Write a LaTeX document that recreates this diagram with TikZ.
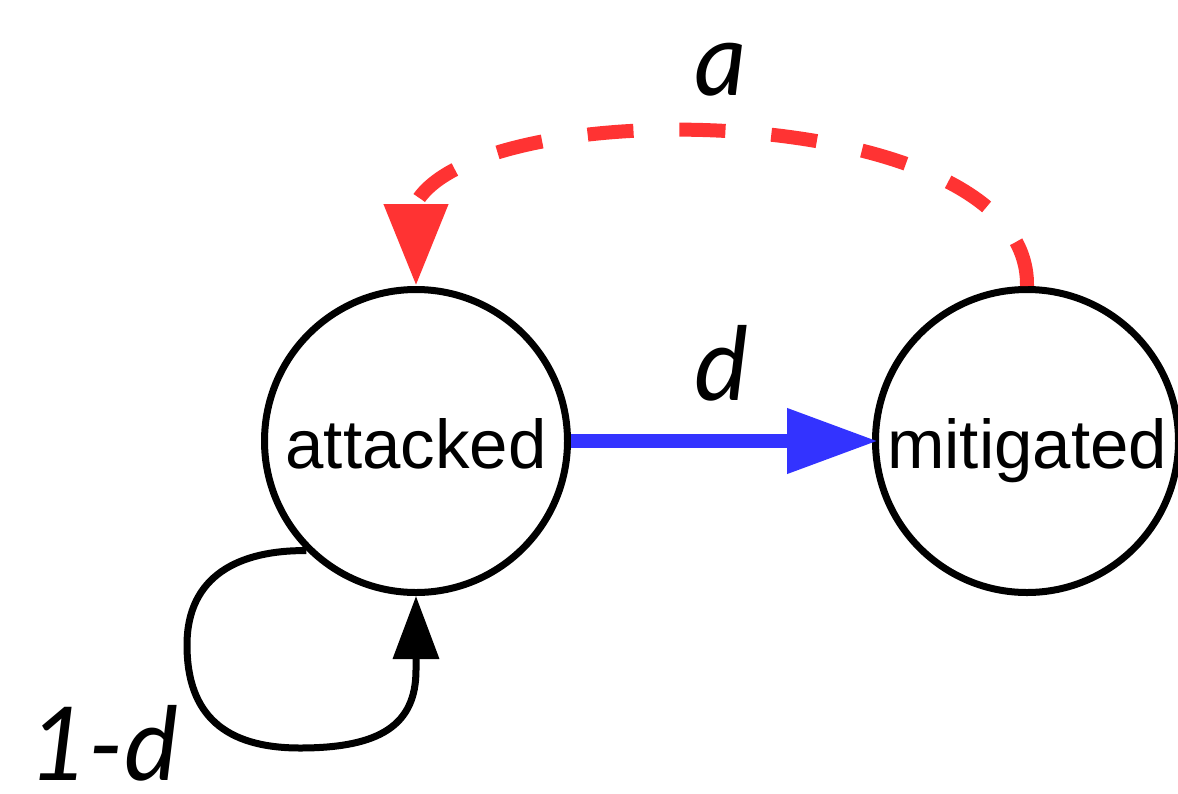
\documentclass[tikz,border=0pt]{standalone}
\usepackage{fontspec}
\setmainfont{Liberation Sans}
\newfontfamily\lblfont{Lato}
\usetikzlibrary{arrows.meta}
\definecolor{myred}{RGB}{255,51,51}
\definecolor{myblue}{RGB}{51,51,255}
\begin{document}
\begin{tikzpicture}[x=1pt,y=-1pt,
  state/.style={circle,draw=black,line width=7pt,minimum size=303pt,inner sep=0pt,
    font=\fontsize{69}{80}\selectfont,text height=60pt,text depth=6pt},
  lbl/.style={font=\lblfont\itshape\fontsize{102}{112}\selectfont,anchor=base,inner sep=0pt},
  bluearrow/.style={line width=14pt,myblue,-{Triangle[length=91pt,width=62pt]}},
  redarrow/.style={line width=14pt,myred,dash pattern=on 46pt off 46pt,-{Triangle[length=82pt,width=61pt]}},
  loopline/.style={line width=7pt,black,-{Triangle[length=63pt,width=45pt]}}]
\useasboundingbox (0,0) rectangle (1178,793);
\node[state] (a) at (416,441) {attacked};
\node[state] (m) at (1027,441) {mitigated};
\draw[bluearrow,shorten >=-6pt] (a) -- (m);
\draw[redarrow] (m.north) .. controls (1030,100) and (480,90) .. (416,203) -- (a.north);
\draw[loopline] (a.225) .. controls (240,550) and (187,575) .. (187,645)
  .. controls (187,715) and (225,748) .. (300,748)
  .. controls (380,748) and (416,725) .. (416,670) -- (a.south);
\node[lbl] (la) at (721,95) {a};
\node[lbl] (ld) at (721,400) {d};
\node[lbl] (l1) at (104,780) {1-d};
\end{tikzpicture}
\end{document}
